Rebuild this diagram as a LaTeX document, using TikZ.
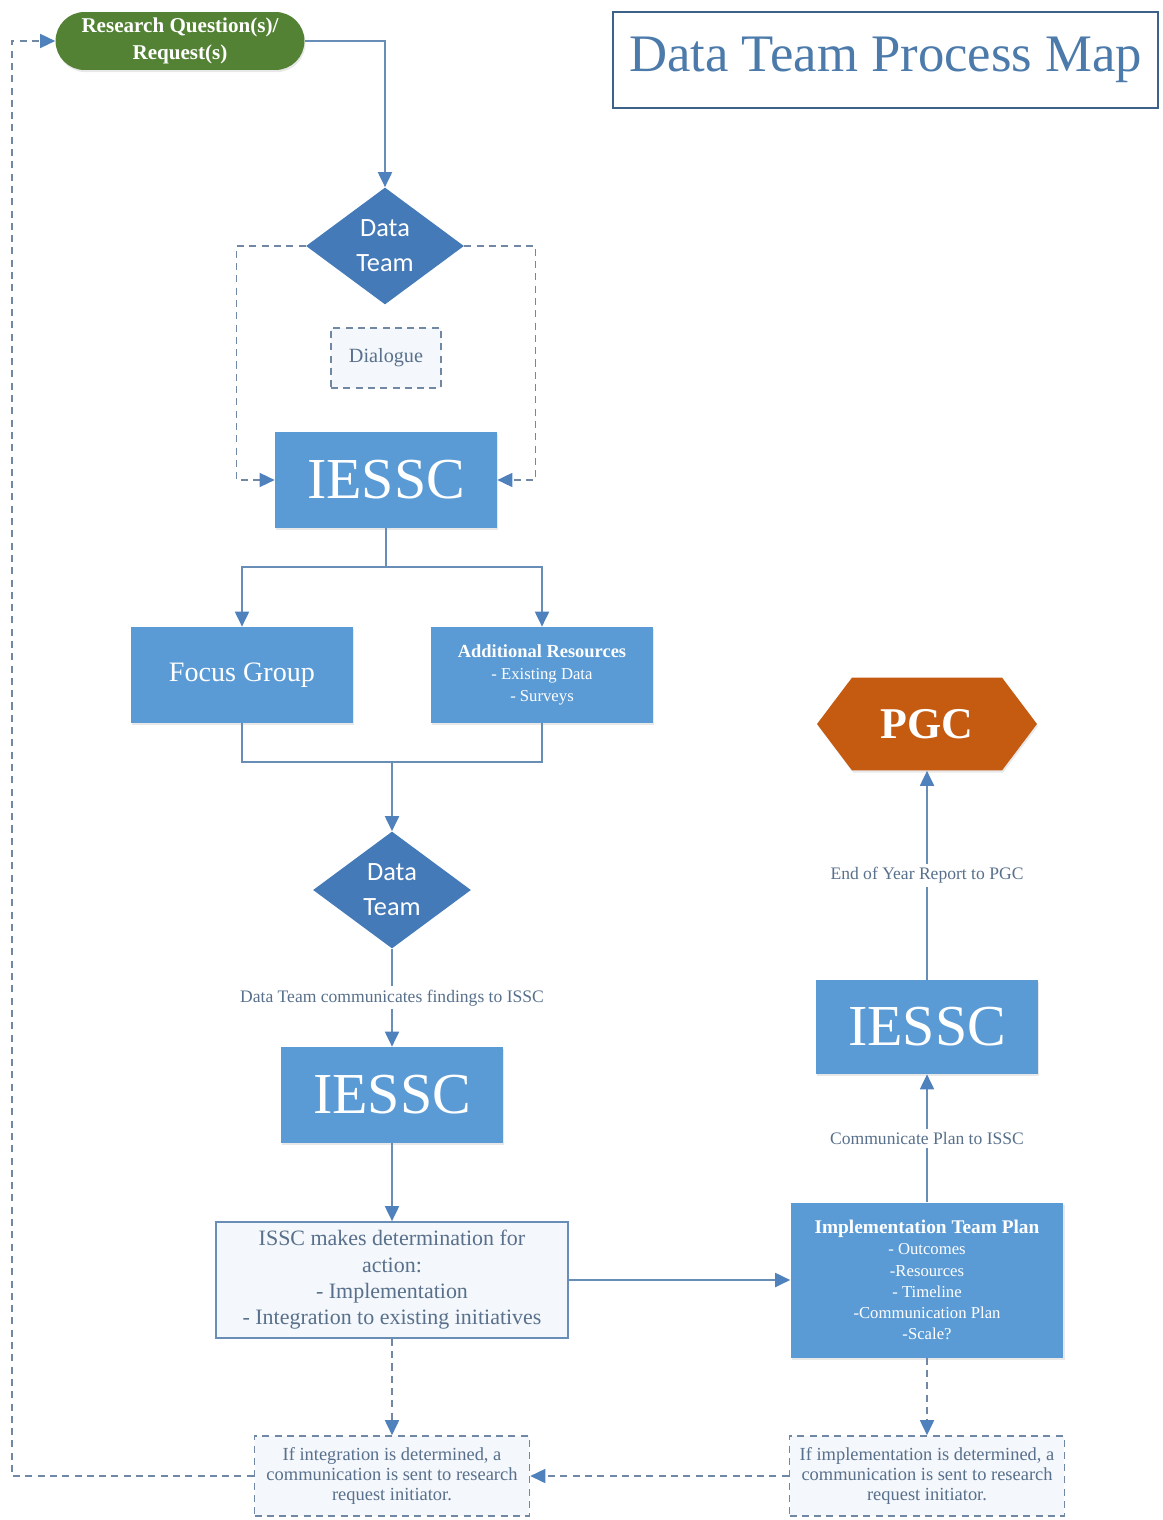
\documentclass[tikz,border=0pt]{standalone}
\usepackage{fontspec}
\setmainfont{Liberation Serif}
\newfontfamily\calfont{Carlito}
\usetikzlibrary{shapes.geometric, shapes.misc, shapes.symbols, arrows.meta, shadows}

\definecolor{boxblue}{RGB}{91,155,213}
\definecolor{diablue}{RGB}{68,122,184}
\definecolor{linkblue}{RGB}{104,141,182}
\definecolor{tipblue}{RGB}{79,129,189}
\definecolor{dashgray}{RGB}{112,136,163}
\definecolor{termgreen}{RGB}{84,130,53}
\definecolor{pgcorange}{RGB}{197,90,17}
\definecolor{titleblue}{RGB}{76,123,171}
\definecolor{textgray}{RGB}{88,112,140}
\definecolor{notefill}{RGB}{244,247,251}

\newcommand{\subfont}{\fontsize{9.5}{12}\selectfont}

\begin{document}
\begin{tikzpicture}[
  x=0.02cm, y=-0.02cm,
  every node/.style={inner sep=2pt},
  soft/.style={drop shadow={shadow xshift=0.6pt, shadow yshift=-1.2pt, opacity=0.18}},
  start/.style={rounded rectangle, fill=termgreen, text=white, align=center, soft, minimum width=5.12cm, minimum height=1.16cm, font=\fontsize{12}{15}\selectfont\bfseries},
  titlebox/.style={rectangle, draw=titleblue!80!black, line width=0.8pt, fill=white, text=titleblue, minimum width=10.9cm, minimum height=1.92cm, font=\fontsize{30}{36}\selectfont},
  dteam/.style={diamond, aspect=1.35, fill=diablue, text=white, align=center, inner sep=0pt, minimum width=3.16cm, minimum height=2.34cm, font=\calfont\fontsize{15}{20}\selectfont},
  proc/.style={rectangle, fill=boxblue, text=white, align=center, soft, minimum width=4.44cm, minimum height=1.92cm},
  big/.style={proc, font=\fontsize{33}{36}\selectfont},
  decide/.style={rectangle, draw=linkblue, line width=1pt, fill=notefill, text=textgray, align=center, minimum width=7.04cm, minimum height=2.32cm, font=\fontsize{12.5}{15}\selectfont},
  note/.style={rectangle, draw=dashgray, line width=0.9pt, dash pattern=on 4pt off 3pt, fill=notefill, text=textgray, align=center, minimum width=5.5cm, minimum height=1.6cm, font=\fontsize{10.5}{11.6}\selectfont},
  dlgbox/.style={note, minimum width=2.2cm, minimum height=1.2cm, font=\fontsize{11.5}{14}\selectfont},
  pgcnode/.style={signal, signal to=east and west, signal pointer angle=106, fill=pgcorange, text=white, soft, minimum width=4.4cm, minimum height=1.86cm, font=\fontsize{25}{30}\selectfont\bfseries},
  lbl/.style={fill=white, text=textgray, inner sep=2pt, font=\fontsize{10}{12}\selectfont},
  link/.style={draw=linkblue, line width=1.1pt},
  dlink/.style={draw=dashgray, line width=0.9pt, dash pattern=on 4pt off 3pt},
  >={Triangle[length=3mm,width=2.8mm,color=tipblue]}
]
\useasboundingbox (0,0) rectangle (1162,1520);

% Nodes
\node[start] (req) at (180,41) {Research Question(s)/\\Request(s)};
\node[titlebox] (title) at (885.5,60) {Data Team Process Map};
\node[dteam] (dt1) at (385,246) {Data\\Team};
\node[dlgbox] (dlg) at (386,358) {Dialogue};
\node[big] (iessc1) at (386,480) {IESSC};
\node[proc, font=\fontsize{16}{18}\selectfont] (focus) at (242,675) {Focus Group};
\node[proc, font=\fontsize{10.5}{12.5}\selectfont] (addres) at (542,675)
  {\textbf{Additional Resources}\\\subfont - Existing Data\\\subfont - Surveys};
\node[dteam] (dt2) at (392,890) {Data\\Team};
\node[big] (iessc2) at (392,1095) {IESSC};
\node[decide] (issc) at (392,1280)
  {ISSC makes determination for\\action:\\- Implementation\\- Integration to existing initiatives};
\node[proc, minimum width=5.46cm, minimum height=3.1cm, font=\fontsize{11}{12}\selectfont] (impl) at (927,1280)
  {\textbf{Implementation Team Plan}\\\subfont - Outcomes\\\subfont -Resources\\\subfont - Timeline\\\subfont -Communication Plan\\\subfont -Scale?};
\node[note] (integ) at (392,1476)
  {If integration is determined, a\\communication is sent to research\\request initiator.};
\node[note] (implc) at (927,1476)
  {If implementation is determined, a\\communication is sent to research\\request initiator.};
\node[big, minimum height=1.88cm] (iessc3) at (927,1027) {IESSC};
\node[pgcnode] (pgc) at (927,724) {PGC};
\coordinate (join) at (392,762);

% Arrows
\draw[link, ->] (req.east) -| (dt1.north);
\draw[dlink, ->] (dt1.west) -- ++(-69,0) |- (iessc1.west);
\draw[dlink, ->] (dt1.east) -- ++(71,0) |- (iessc1.east);
\draw[link, ->] (iessc1.south) -- ++(0,39) -| (focus.north);
\draw[link, ->] (iessc1.south) -- ++(0,39) -| (addres.north);
\draw[link] (focus.south) |- (join) -| (addres.south);
\draw[link, ->] (join) -- (dt2.north);
\draw[link, ->] (dt2.south) -- node[lbl] {Data Team communicates findings to ISSC} (iessc2.north);
\draw[link, ->] (iessc2.south) -- (issc.north);
\draw[link, ->] (issc.east) -- (impl.west);
\draw[link, ->] (impl.north) -- node[lbl] {Communicate Plan to ISSC} (iessc3.south);
\draw[link, ->] (iessc3.north) -- node[lbl] {End of Year Report to PGC} (pgc.south);
\draw[dlink, ->] (issc.south) -- (integ.north);
\draw[dlink, ->] (impl.south) -- (implc.north);
\draw[dlink, ->] (implc.west) -- (integ.east);
\draw[dlink, ->] (integ.west) -- ++(-242,0) |- (req.west);

\end{tikzpicture}
\end{document}
